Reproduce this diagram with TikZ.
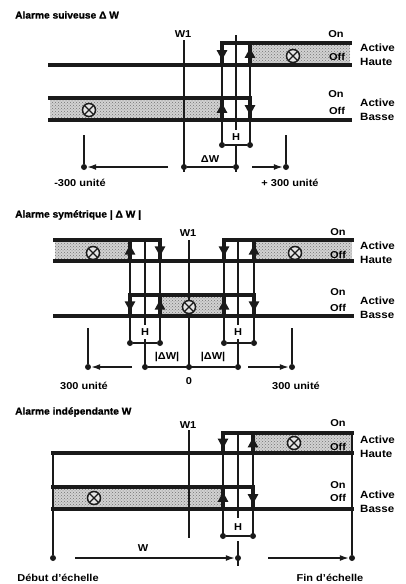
\documentclass[tikz,border=0pt]{standalone}
\usepackage{fontspec}
\setmainfont{Liberation Sans}[FakeStretch=1.1]
\newfontfamily\heavy{Liberation Sans}[FakeStretch=1.02,FakeBold=1.2]
\usetikzlibrary{arrows.meta,decorations.markings,patterns}
\definecolor{tr}{HTML}{1A1A1A}
\definecolor{zn}{HTML}{D2D2D2}
\tikzset{
  sig/.style={tr,line width=3.3pt,line cap=rect},
  gd/.style={tr,line width=1.7pt},
  zone/.style={fill=zn,postaction={pattern=crosshatch dots,pattern color=black!55}},
  mk/.style={postaction={decorate,decoration={markings,
    mark=at position .78 with {\arrow{Triangle[length=10pt,width=10pt]}}}}},
  dot/.style={circle,fill=tr,inner sep=0pt,minimum size=6pt},
  dim/.style={tr,line width=1.4pt},
  dimar/.style={tr,line width=1.4pt,-{Latex[length=9pt,width=6pt]}},
  lamp/.style={circle,draw=tr,fill=zn!60,line width=1.5pt,minimum size=13pt,inner sep=0pt,
    path picture={\draw[tr,line width=1.3pt]
      (path picture bounding box.north west) -- (path picture bounding box.south east)
      (path picture bounding box.north east) -- (path picture bounding box.south west);}},
  ttl/.style={anchor=west,inner sep=0pt,font=\heavy\bfseries\fontsize{10}{12}\selectfont},
  lbl/.style={inner sep=0pt,font=\bfseries\fontsize{10}{11}\selectfont},
  stat/.style={anchor=west,align=left,inner sep=0pt,font=\bfseries\fontsize{10.5}{14}\selectfont},
}

\begin{document}
\begin{tikzpicture}[x=1pt,y=-1pt]
  \useasboundingbox[fill=white] (0,0) rectangle (406,584);

  \node[ttl] (t1) at (15,15) {Alarme suiveuse Δ W};
  \fill[zone] (250,43) rectangle (350,65);
  \fill[zone] (50,98) rectangle (222,120);
  \draw[gd] (184,40) -- (184,172);
  \draw[gd] (236,35) -- (236,130) (236,144) -- (236,172);
  \draw[gd] (222,43) -- (222,145) (250,43) -- (250,145);
  \draw[sig] (50,65) -- (350,65) (222,43) -- (350,43);
  \draw[sig] (50,98) -- (250,98) (50,120) -- (350,120);
  \draw[sig,mk] (222,43) -- (222,65);
  \draw[sig,mk] (250,65) -- (250,43);
  \draw[sig,mk] (222,120) -- (222,98);
  \draw[sig,mk] (250,98) -- (250,120);
  \node[lamp] (l1a) at (293,56) {};
  \node[lamp] (l1b) at (89,110) {};
  \node[lbl] (w1a) at (183,34) {W1};
  \node[lbl] (on1a) at (336,34) {On};
  \node[lbl] (off1a) at (337,57) {Off};
  \node[stat] (s1a) at (360,55) {Active\\Haute};
  \node[lbl] (on1b) at (336,94) {On};
  \node[lbl] (off1b) at (337,111) {Off};
  \node[stat] (s1b) at (360,110) {Active\\Basse};
  \node[dot] (h1l) at (222,145) {};
  \node[dot] (h1r) at (250,145) {};
  \draw[dim] (h1l) -- (h1r);
  \node[lbl] (h1) at (236,137) {H};
  \node[dot] (d1l) at (184,167) {};
  \node[dot] (d1r) at (236,167) {};
  \draw[dim] (d1l) -- (d1r);
  \node[lbl] (dw1) at (210,159) {ΔW};
  \node[dot] (m1) at (84,167) {};
  \node[dot] (p1) at (286,167) {};
  \coordinate (m1s) at (168,167);
  \coordinate (p1s) at (252,167);
  \draw[gd] (84,135) -- (m1);
  \draw[gd] (286,135) -- (p1);
  \draw[dimar] (m1s) -- (m1);
  \draw[dimar] (p1s) -- (p1);
  \node[lbl] (u1l) at (80,183) {-300 unité};
  \node[lbl] (u1r) at (290,183) {+ 300 unité};

  \node[ttl] (t2) at (15,215) {Alarme symétrique | Δ W |};
  \fill[zone] (55,240) rectangle (130,261);
  \fill[zone] (254,240) rectangle (352,261);
  \fill[zone] (160,295) rectangle (224,316);
  \draw[gd] (189,240) -- (189,367);
  \draw[gd] (145,240) -- (145,325) (145,339) -- (145,367);
  \draw[gd] (238,240) -- (238,325) (238,339) -- (238,367);
  \draw[gd] (130,240) -- (130,343) (160,240) -- (160,343);
  \draw[gd] (224,240) -- (224,343) (254,240) -- (254,343);
  \draw[sig] (55,240) -- (160,240) (224,240) -- (352,240) (55,261) -- (352,261);
  \draw[sig] (130,295) -- (254,295) (55,316) -- (352,316);
  \draw[sig,mk] (130,261) -- (130,240);
  \draw[sig,mk] (160,240) -- (160,261);
  \draw[sig,mk] (224,240) -- (224,261);
  \draw[sig,mk] (254,261) -- (254,240);
  \draw[sig,mk] (130,295) -- (130,316);
  \draw[sig,mk] (160,316) -- (160,295);
  \draw[sig,mk] (224,316) -- (224,295);
  \draw[sig,mk] (254,295) -- (254,316);
  \node[lamp] (l2a) at (93,253) {};
  \node[lamp] (l2b) at (295,253) {};
  \node[lamp] (l2c) at (189,307) {};
  \node[lbl] (w1b) at (188,233) {W1};
  \node[lbl] (on2a) at (338,232) {On};
  \node[lbl] (off2a) at (338,255) {Off};
  \node[stat] (s2a) at (360,253) {Active\\Haute};
  \node[lbl] (on2b) at (338,292) {On};
  \node[lbl] (off2b) at (338,308) {Off};
  \node[stat] (s2b) at (360,308) {Active\\Basse};
  \node[dot] (h2a) at (130,343) {};
  \node[dot] (h2b) at (160,343) {};
  \node[dot] (h2c) at (224,343) {};
  \node[dot] (h2d) at (254,343) {};
  \draw[dim] (h2a) -- (h2b) (h2c) -- (h2d);
  \node[lbl] (h2l) at (145,332) {H};
  \node[lbl] (h2r) at (238,332) {H};
  \node[dot] (d2l) at (145,367) {};
  \node[dot] (d2c) at (189,367) {};
  \node[dot] (d2r) at (238,367) {};
  \draw[dim] (d2l) -- (d2r);
  \node[lbl] (dw2l) at (167,357) {|ΔW|};
  \node[lbl] (dw2r) at (213,357) {|ΔW|};
  \node[lbl] (z2) at (189,381) {0};
  \node[dot] (m2) at (88,367) {};
  \node[dot] (p2) at (292,367) {};
  \coordinate (m2s) at (132,367);
  \coordinate (p2s) at (248,367);
  \draw[gd] (88,328) -- (m2);
  \draw[gd] (292,328) -- (p2);
  \draw[dimar] (m2s) -- (m2);
  \draw[dimar] (p2s) -- (p2);
  \node[lbl] (u2l) at (84,386) {300 unité};
  \node[lbl] (u2r) at (296,386) {300 unité};

  \node[ttl] (t3) at (15,412) {Alarme indépendante W};
  \fill[zone] (253,433) rectangle (352,453);
  \fill[zone] (53,487) rectangle (223,509);
  \draw[gd] (189,430) -- (189,538);
  \draw[gd] (238,433) -- (238,518) (238,541) -- (238,566);
  \draw[gd] (223,433) -- (223,536) (253,433) -- (253,536);
  \node[dot] (b3) at (53,558) {};
  \node[dot] (e3) at (352,558) {};
  \draw[gd] (53,453) -- (b3);
  \draw[gd] (352,433) -- (e3);
  \draw[sig] (223,433) -- (352,433) (53,453) -- (352,453);
  \draw[sig] (53,487) -- (253,487) (53,509) -- (352,509);
  \draw[sig,mk] (223,433) -- (223,453);
  \draw[sig,mk] (253,453) -- (253,433);
  \draw[sig,mk] (223,509) -- (223,487);
  \draw[sig,mk] (253,487) -- (253,509);
  \node[lamp] (l3a) at (294,443) {};
  \node[lamp] (l3b) at (94,498) {};
  \node[lbl] (w1c) at (188,425) {W1};
  \node[lbl] (on3a) at (338,423) {On};
  \node[lbl] (off3a) at (338,447) {Off};
  \node[stat] (s3a) at (360,447) {Active\\Haute};
  \node[lbl] (on3b) at (338,485) {On};
  \node[lbl] (off3b) at (338,498) {Off};
  \node[stat] (s3b) at (360,502) {Active\\Basse};
  \node[dot] (h3l) at (223,536) {};
  \node[dot] (h3r) at (253,536) {};
  \draw[dim] (h3l) -- (h3r);
  \node[lbl] (h3) at (238,527) {H};
  \node[dot] (w3) at (238,558) {};
  \coordinate (w3s) at (75,558);
  \coordinate (e3s) at (268,558);
  \draw[dimar] (w3s) -- (w3);
  \draw[dimar] (e3s) -- (e3);
  \node[lbl] (wl3) at (143,548) {W};
  \node[lbl] (deb) at (58,578) {Début d'échelle};
  \node[lbl] (fin) at (330,578) {Fin d'échelle};
\end{tikzpicture}
\end{document}
